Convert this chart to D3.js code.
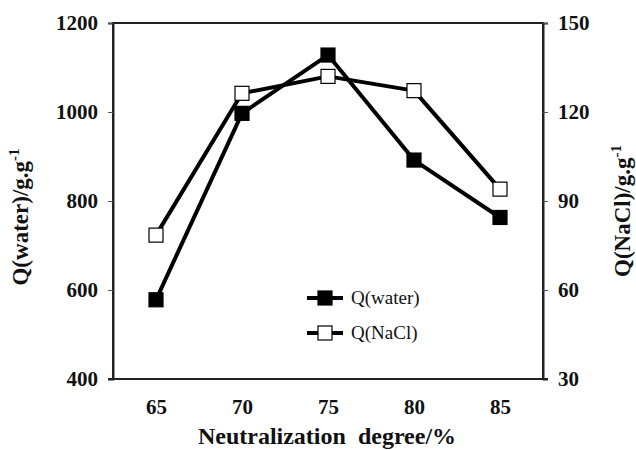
<!DOCTYPE html>
<html>
<head>
<meta charset="utf-8">
<script src="https://cdn.jsdelivr.net/npm/d3@7"></script>
<style>
  body { margin: 0; background: #fff; }
  text { font-family: "Liberation Serif", "Times New Roman", serif; }
</style>
</head>
<body>
<div id="plotarea"></div>
<script>
// data
var degrees = ["65", "70", "75", "80", "85"];
var qWater = [578, 997, 1128, 892, 763];
var qNaCl = [78.5, 126.3, 132, 127.2, 94];
var leftTicks = [400, 600, 800, 1000, 1200];
var rightTicks = [30, 60, 90, 120, 150];

var W = 636, H = 450;
var margin = {top: 23, right: 93, bottom: 71, left: 113},
    width = W - margin.left - margin.right,
    height = H - margin.top - margin.bottom;

var svg = d3.select("#plotarea")
  .append("svg")
    .attr("width", W)
    .attr("height", H)
  .append("g")
    .attr("transform", "translate(" + margin.left + "," + margin.top + ")");

var x = d3.scalePoint().domain(degrees).range([0, width]).padding(0.5);
var yL = d3.scaleLinear().domain([400, 1200]).range([height, 0]);
var yR = d3.scaleLinear().domain([30, 150]).range([height, 0]);

// frame
svg.append("rect")
  .attr("x", 0).attr("y", 0)
  .attr("width", width).attr("height", height)
  .attr("fill", "none").attr("stroke", "#222").attr("stroke-width", 2);

function styleTicks(g) {
  g.selectAll(".tick text").attr("font-size", 21).attr("font-weight", "bold")
    .attr("font-family", "Liberation Serif").attr("fill", "#111");
}

// left axis
var gl = svg.append("g")
  .call(d3.axisLeft(yL).tickValues(leftTicks).tickFormat(d3.format("d")).tickSize(5).tickPadding(10));
gl.select(".domain").attr("stroke", "#222").attr("stroke-width", 2);
gl.selectAll(".tick line").attr("stroke", "#555");
styleTicks(gl);

// right axis
var gr = svg.append("g")
  .attr("transform", "translate(" + width + ",0)")
  .call(d3.axisRight(yR).tickValues(rightTicks).tickSize(5).tickPadding(10));
gr.select(".domain").attr("stroke", "#222").attr("stroke-width", 2);
gr.selectAll(".tick line").attr("stroke", "#555");
styleTicks(gr);

// bottom axis (labels only)
var gb = svg.append("g")
  .attr("transform", "translate(0," + height + ")")
  .call(d3.axisBottom(x).tickSize(0).tickPadding(20));
gb.select(".domain").attr("d", "M-5,0H" + (width + 5)).attr("stroke", "#222").attr("stroke-width", 2);
styleTicks(gb);

// axis titles
svg.append("text")
  .attr("x", width / 2 - 1).attr("y", height + 65)
  .attr("text-anchor", "middle")
  .attr("font-size", 24).attr("font-weight", "bold").attr("fill", "#111")
  .text("Neutralization\u00a0\u00a0degree/%");

var tl = svg.append("text")
  .attr("transform", "translate(" + (-85) + "," + (height / 2 + 16) + ") rotate(-90)")
  .attr("text-anchor", "middle")
  .attr("font-size", 23).attr("font-weight", "bold").attr("fill", "#111");
tl.append("tspan").text("Q(water)/g.g");
tl.append("tspan").attr("dy", -9).attr("font-size", 15).text("-1");

var tr = svg.append("text")
  .attr("transform", "translate(" + (width + 87) + "," + (height / 2 + 10) + ") rotate(-90)")
  .attr("text-anchor", "middle")
  .attr("font-size", 23).attr("font-weight", "bold").attr("fill", "#111");
tr.append("tspan").text("Q(NaCl)/g.g");
tr.append("tspan").attr("dy", -9).attr("font-size", 15).text("-1");

// series
var series = [
  {name: "Q(water)", values: qWater, y: yL, fill: "#000"},
  {name: "Q(NaCl)", values: qNaCl, y: yR, fill: "#fff"}
];
var ms = 14;

series.forEach(function(s) {
  var line = d3.line()
    .x(function(d, i) { return x(degrees[i]); })
    .y(function(d) { return s.y(d); });
  svg.append("path")
    .datum(s.values)
    .attr("d", line)
    .attr("fill", "none")
    .attr("stroke", "#000")
    .attr("stroke-width", 4)
    .attr("stroke-linejoin", "round");
});

series.forEach(function(s) {
  svg.append("g").selectAll("rect")
    .data(s.values)
    .enter()
    .append("rect")
    .attr("x", function(d, i) { return x(degrees[i]) - ms / 2; })
    .attr("y", function(d) { return s.y(d) - ms / 2; })
    .attr("width", ms).attr("height", ms)
    .attr("fill", s.fill)
    .attr("stroke", "#000").attr("stroke-width", 1.2);
});

// legend
var legend = svg.append("g").attr("transform", "translate(194,275)");
series.forEach(function(s, i) {
  var g = legend.append("g").attr("transform", "translate(0," + (i * 35) + ")");
  g.append("line").attr("x1", 0).attr("x2", 36).attr("y1", 0).attr("y2", 0)
    .attr("stroke", "#000").attr("stroke-width", 4);
  g.append("rect").attr("x", 18 - ms / 2).attr("y", -ms / 2)
    .attr("width", ms).attr("height", ms)
    .attr("fill", s.fill).attr("stroke", "#000").attr("stroke-width", 1.2);
  g.append("text").attr("x", 44).attr("y", 6)
    .attr("font-size", 19).attr("fill", "#111")
    .text(s.name);
});
</script>
</body>
</html>
